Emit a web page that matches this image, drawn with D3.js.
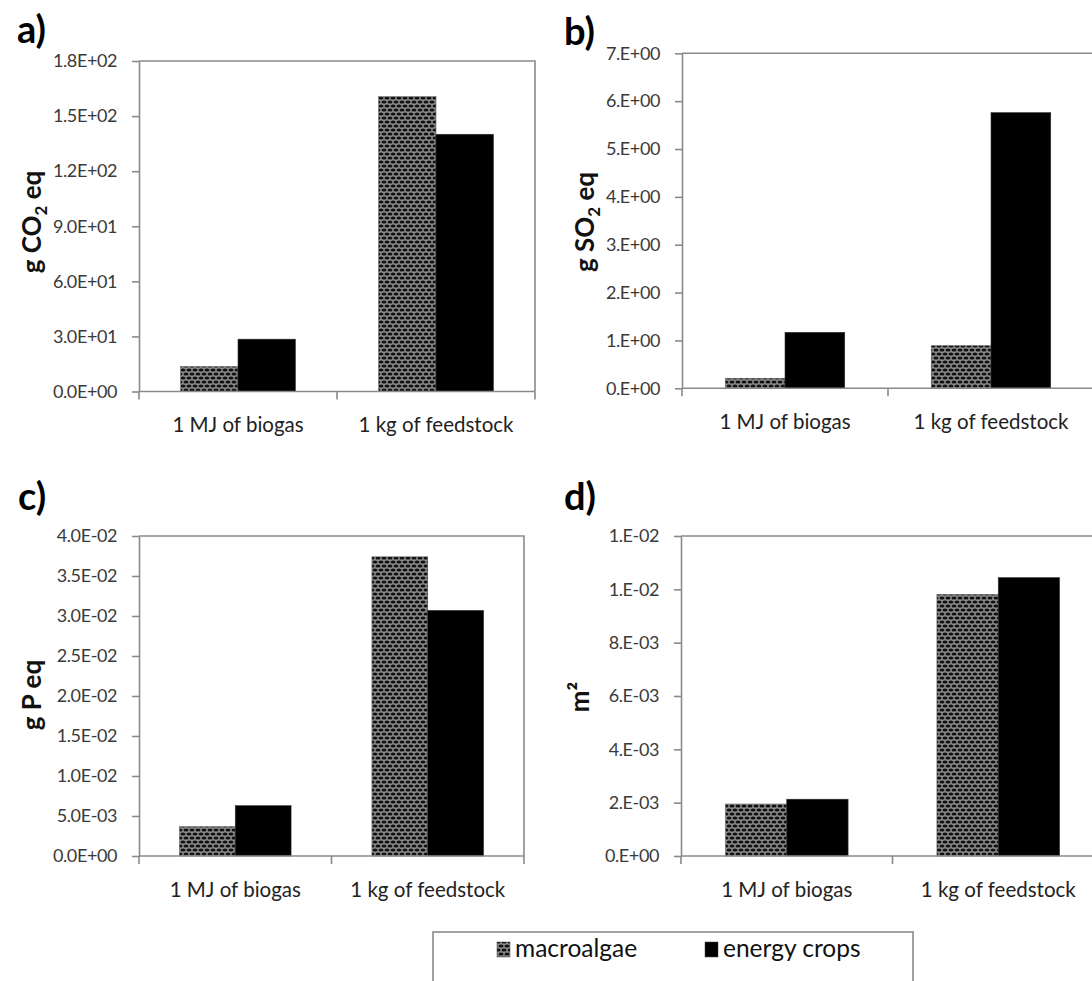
<!DOCTYPE html>
<html>
<head>
<meta charset="utf-8">
<script src="https://cdn.jsdelivr.net/npm/d3@7"></script>
<style>
  html, body { margin: 0; padding: 0; background: #fff; }
  svg { display: block; font-family: Lato, "Open Sans", sans-serif; }
</style>
</head>
<body>
<script>
// ---------------- DATA ----------------
const categories = ["1 MJ of biogas", "1 kg of feedstock"];
const seriesNames = ["macroalgae", "energy crops"];

// a) climate change, g CO2 eq
const gwpMacroalgae = [13.6, 160.6];
const gwpEnergyCrops = [28.5, 140.1];
// b) acidification, g SO2 eq
const apMacroalgae = [0.21, 0.89];
const apEnergyCrops = [1.17, 5.76];
// c) eutrophication, g P eq
const epMacroalgae = [0.00367, 0.0374];
const epEnergyCrops = [0.00629, 0.0307];
// d) land use, m2
const luMacroalgae = [0.00195, 0.00981];
const luEnergyCrops = [0.00213, 0.01044];

// tick values per panel
const gwpTicks = [0, 30, 60, 90, 120, 150, 180];
const apTicks = [0, 1, 2, 3, 4, 5, 6, 7];
const epTicks = [0, 0.005, 0.010, 0.015, 0.020, 0.025, 0.030, 0.035, 0.040];
const luTicks = [0, 0.002, 0.004, 0.006, 0.008, 0.010, 0.012];

// ---------------- LAYOUT ----------------
const W = 1092, H = 981;
const svg = d3.select("body").append("svg").attr("width", W).attr("height", H);

const defs = svg.append("defs");
const pat = defs.append("pattern").attr("id", "dots")
  .attr("patternUnits", "userSpaceOnUse").attr("width", 6).attr("height", 8);
pat.append("rect").attr("width", 6).attr("height", 8).attr("fill", "#8a8a8a");
[[3, 2], [0, 6], [6, 6]].forEach(([cx, cy]) =>
  pat.append("ellipse").attr("cx", cx).attr("cy", cy).attr("rx", 2.5).attr("ry", 1.5).attr("fill", "#111"));

const fills = ["url(#dots)", "#000"];
const axisColor = "#8a8a8a";

function sci(digits) {
  return v => {
    const s = (+v).toExponential(digits);
    let [m, e] = s.split("e");
    if (digits === 0) m = m + ".";
    const sign = e[0];
    const ex = e.slice(1).padStart(2, "0");
    return m + "E" + sign + ex;
  };
}

const panels = [
  { label: "a)", lx: 17, ly: 43, L: 139, R: 535, T: 61, B: 391.5,
    max: 180, ticks: gwpTicks, fmt: sci(1), values: [gwpMacroalgae, gwpEnergyCrops],
    title: ["g CO", "2", " eq"], tx: 41, ty: 222 },
  { label: "b)", lx: 564, ly: 45, L: 682, R: 1094, T: 53.3, B: 388.3,
    max: 7, ticks: apTicks, fmt: sci(0), values: [apMacroalgae, apEnergyCrops],
    title: ["g SO", "2", " eq"], tx: 594, ty: 222 },
  { label: "c)", lx: 18, ly: 510, L: 139, R: 524, T: 536, B: 856,
    max: 0.04, ticks: epTicks, fmt: sci(1), values: [epMacroalgae, epEnergyCrops],
    title: ["g P eq"], tx: 41, ty: 695 },
  { label: "d)", lx: 564, ly: 510, L: 681, R: 1104, T: 536, B: 856,
    max: 0.012, ticks: luTicks, fmt: sci(0), values: [luMacroalgae, luEnergyCrops],
    title: ["m²"], tx: 589, ty: 697 }
];

panels.forEach(p => {
  const g = svg.append("g");
  const x0 = d3.scaleBand().domain(categories).range([p.L, p.R]).paddingInner(0).paddingOuter(0);
  const bw = x0.bandwidth();
  const x1 = d3.scaleBand().domain(seriesNames).range([bw * 0.21, bw * 0.79]).padding(0);
  const y = d3.scaleLinear().domain([0, p.max]).range([p.B, p.T]);

  // bars
  seriesNames.forEach((s, si) => {
    g.append("g").selectAll("rect").data(categories).join("rect")
      .attr("x", c => x0(c) + x1(s))
      .attr("y", (c, i) => y(p.values[si][i]))
      .attr("width", x1.bandwidth())
      .attr("height", (c, i) => y(0) - y(p.values[si][i]))
      .attr("fill", fills[si])
      .attr("stroke", si === 0 ? "#666" : "#333")
      .attr("stroke-width", 0.6);
  });

  // frame (top & right)
  g.append("path")
    .attr("d", `M${p.L},${p.T}H${p.R}V${p.B}`)
    .attr("fill", "none").attr("stroke", axisColor).attr("stroke-width", 1.6);

  // y axis
  const ya = g.append("g").attr("transform", `translate(${p.L},0)`)
    .call(d3.axisLeft(y).tickValues(p.ticks).tickFormat(p.fmt).tickSize(7).tickSizeOuter(0).tickPadding(15));
  ya.selectAll("path,line").attr("stroke", axisColor).attr("stroke-width", 1.6);
  ya.selectAll("text").attr("font-size", 18).attr("fill", "#3a3a3a").attr("font-family", "Lato")
    .attr("letter-spacing", -0.4);

  // x axis: baseline + boundary ticks + labels
  const xa = g.append("g").attr("transform", `translate(0,${p.B})`)
    .call(d3.axisBottom(x0).tickSize(0).tickPadding(26));
  xa.select(".domain").attr("d", `M${p.L},0H${p.R}`).attr("stroke", axisColor).attr("stroke-width", 1.6);
  xa.selectAll("text").attr("font-size", 20.5).attr("fill", "#222").attr("font-family", "Lato");
  const bounds = categories.map(c => x0(c)).concat([p.R]);
  xa.selectAll("line.bound").data(bounds).join("line").attr("class", "bound")
    .attr("x1", d => d).attr("x2", d => d).attr("y1", 0).attr("y2", 8)
    .attr("stroke", axisColor).attr("stroke-width", 1.6);

  // y title
  const t = g.append("text")
    .attr("transform", `translate(${p.tx},${p.ty}) rotate(-90)`)
    .attr("text-anchor", "middle").attr("font-size", 26).attr("font-weight", 700)
    .attr("fill", "#111").attr("font-family", "Lato");
  if (p.title.length === 3) {
    t.append("tspan").text(p.title[0]);
    t.append("tspan").text(p.title[1]).attr("font-size", 17).attr("dy", 6);
    t.append("tspan").text(p.title[2]).attr("dy", -6);
  } else {
    t.text(p.title[0]);
  }

  // panel label
  svg.append("text").attr("x", p.lx).attr("y", p.ly).text(p.label)
    .attr("font-size", 38).attr("font-weight", 700).attr("fill", "#000").attr("font-family", "Lato");
});

// ---------------- LEGEND ----------------
const lg = svg.append("g");
lg.append("rect").attr("x", 433).attr("y", 932).attr("width", 480).attr("height", 70)
  .attr("fill", "#fff").attr("stroke", axisColor).attr("stroke-width", 1.6);
const legendX = [497, 705];
seriesNames.forEach((s, i) => {
  lg.append("rect").attr("x", legendX[i]).attr("y", 942).attr("width", 13).attr("height", 15)
    .attr("fill", fills[i]).attr("stroke", "#444").attr("stroke-width", 0.5);
  lg.append("text").attr("x", legendX[i] + 18).attr("y", 957).text(s)
    .attr("font-size", 24.5).attr("fill", "#111").attr("font-family", "Lato");
});
</script>
</body>
</html>
